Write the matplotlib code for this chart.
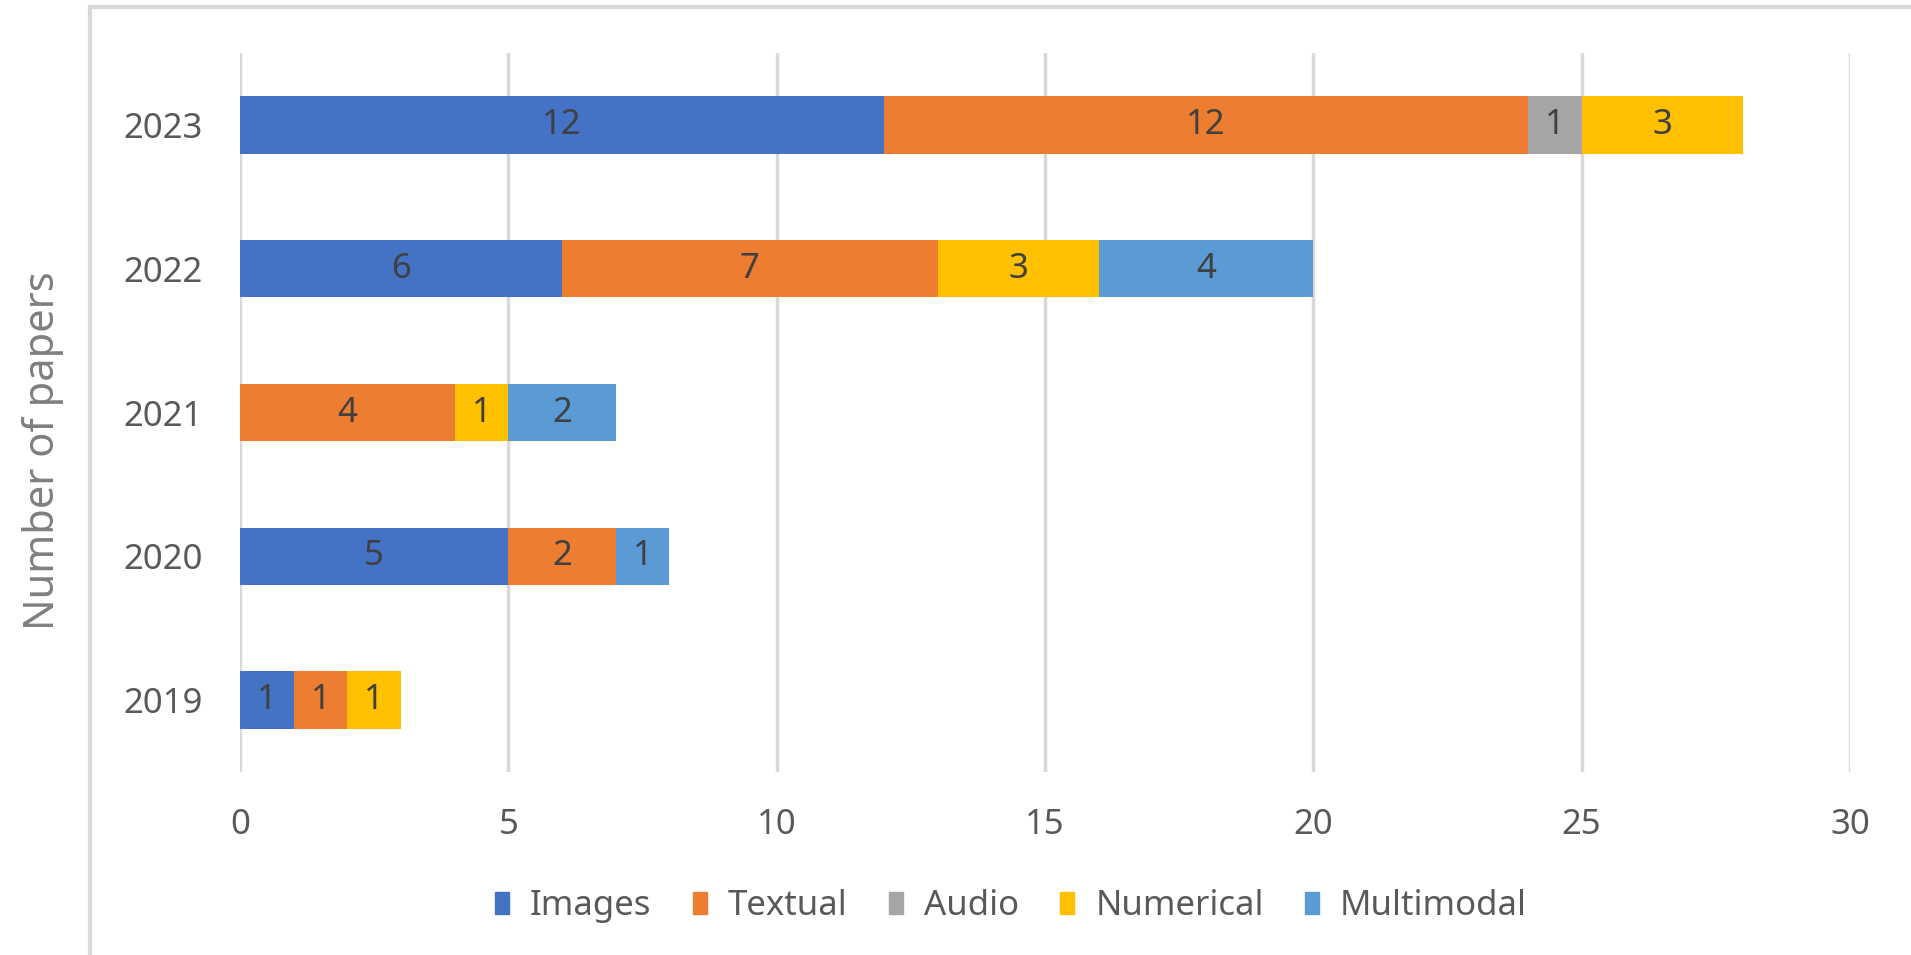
import matplotlib.pyplot as plt
from matplotlib.patches import Rectangle, Patch

plt.rcParams['font.family'] = ['Noto Sans', 'DejaVu Sans']

years = ['2019', '2020', '2021', '2022', '2023']
images = [1, 5, 0, 6, 12]
textual = [1, 2, 4, 7, 12]
audio = [0, 0, 0, 0, 1]
numerical = [1, 0, 1, 3, 3]
multimodal = [0, 1, 2, 4, 0]

series = [
    ('Images', images, '#4472C4'),
    ('Textual', textual, '#ED7D31'),
    ('Audio', audio, '#A5A5A5'),
    ('Numerical', numerical, '#FFC000'),
    ('Multimodal', multimodal, '#5B9BD5'),
]

W, H = 1911, 955
fig = plt.figure(figsize=(W / 100, H / 100), dpi=100)
ax = fig.add_axes([240 / W, 1 - 772 / H, 1610 / W, 719 / H])

ypos = list(range(len(years)))
left = [0] * len(years)
for name, vals, color in series:
    bars = ax.barh(ypos, vals, height=0.4, left=left, color=color, label=name)
    for b, v in zip(bars, vals):
        if v:
            ax.text(b.get_x() + b.get_width() / 2, b.get_y() + b.get_height() / 2,
                    str(v), ha='center', va='center', fontsize=25, color='#404040')
    left = [l + v for l, v in zip(left, vals)]

ax.set_xlim(0, 30)
ax.set_ylim(-0.5, 4.5)
ax.set_xticks(range(0, 31, 5))
ax.set_yticks(ypos)
ax.set_yticklabels(years)
ax.tick_params(length=0, labelsize=25, labelcolor='#595959')
ax.tick_params(axis='x', pad=26)
ax.tick_params(axis='y', pad=27)
ax.grid(axis='x', color='#d9d9d9', linewidth=2.5)
ax.set_axisbelow(True)
for s in ax.spines.values():
    s.set_visible(False)

fig.text(43 / W, 1 - 451 / H, 'Number of papers', rotation=90, ha='center', va='center',
         fontsize=30, color='#7f7f7f')

handles = [Patch(color=c, label=n) for n, _, c in series]
fig.legend(handles=handles, loc='center', bbox_to_anchor=(1011 / W, 1 - 906 / H), ncol=5,
           frameon=False, fontsize=25, labelcolor='#595959', handlelength=0.4,
           handleheight=0.6, handletextpad=0.6, columnspacing=1.2)

# outer chart frame
fig.add_artist(Rectangle((90 / W, -0.05), 1.1, 1 - 7 / H + 0.05, transform=fig.transFigure,
                         fill=False, edgecolor='#d9d9d9', linewidth=3))

fig.savefig('out.png', dpi=100)
